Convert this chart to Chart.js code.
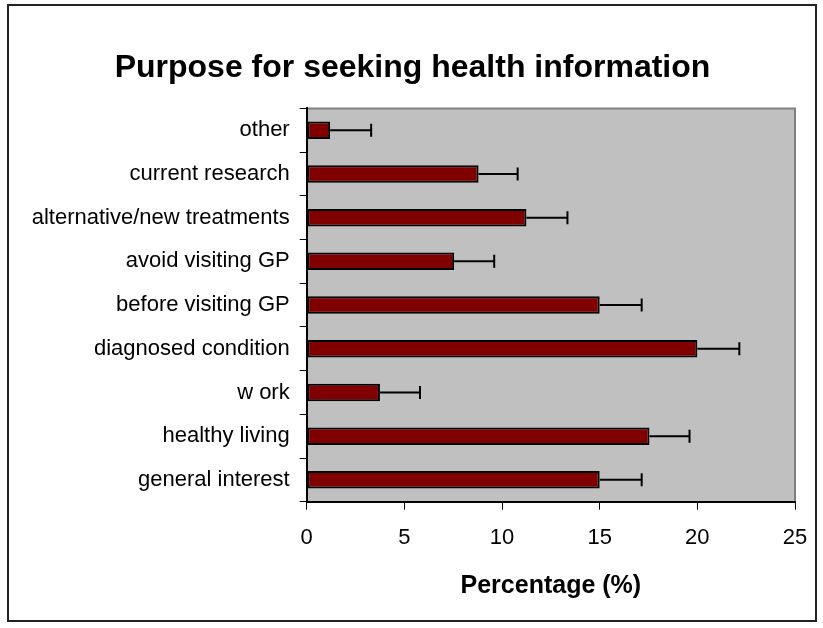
<!DOCTYPE html>
<html lang="en">
<head>
  <meta charset="UTF-8">
  <title>Purpose for seeking health information</title>
  <script src="https://cdn.jsdelivr.net/npm/chart.js"></script>
  <style>
    html, body { margin: 0; padding: 0; background: #fff; }
    #box { width: 823px; height: 628px; position: relative; }
  </style>
</head>
<body>
  <div id="box"><canvas id="grafico"></canvas></div>

  <script>
    // data, top to bottom as drawn
    const categorie = ['other', 'current research', 'alternative/new treatments', 'avoid visiting GP',
      'before visiting GP', 'diagnosed condition', 'w ork', 'healthy living', 'general interest'];
    const percentuali = [1.2, 8.8, 11.25, 7.55, 15.0, 20.0, 3.75, 17.55, 15.0];
    const errori = [2.1, 2.0, 2.1, 2.05, 2.15, 2.15, 2.05, 2.05, 2.15];
    const tickX = [0, 5, 10, 15, 20, 25];

    const FONT = 'Liberation Sans, Arial, sans-serif';

    // grey plot area + outer frame
    const sfondo = {
      id: 'sfondo',
      beforeDraw(chart) {
        const { ctx, chartArea: a } = chart;
        ctx.save();
        ctx.fillStyle = '#c0c0c0';
        ctx.fillRect(a.left, a.top, a.right - a.left, a.bottom - a.top);
        ctx.strokeStyle = '#808080';
        ctx.lineWidth = 2;
        ctx.beginPath();
        ctx.moveTo(a.left, a.top);
        ctx.lineTo(a.right, a.top);
        ctx.lineTo(a.right, a.bottom);
        ctx.stroke();
        ctx.restore();
      },
      afterDraw(chart) {
        const ctx = chart.ctx;
        ctx.save();
        ctx.strokeStyle = '#222';
        ctx.lineWidth = 2;
        ctx.strokeRect(8, 5, 808, 616);
        ctx.restore();
      }
    };

    // plus-only error bars
    const barreErrore = {
      id: 'barreErrore',
      afterDatasetsDraw(chart) {
        const { ctx, scales } = chart;
        const meta = chart.getDatasetMeta(0);
        ctx.save();
        ctx.strokeStyle = '#000';
        ctx.lineWidth = 2;
        meta.data.forEach((bar, i) => {
          const x0 = scales.x.getPixelForValue(percentuali[i]);
          const x1 = scales.x.getPixelForValue(percentuali[i] + errori[i]);
          const y = bar.y;
          ctx.beginPath();
          ctx.moveTo(x0, y);
          ctx.lineTo(x1, y);
          ctx.moveTo(x1, y - 6.5);
          ctx.lineTo(x1, y + 6.5);
          ctx.stroke();
        });
        ctx.restore();
      }
    };

    const ctx = document.getElementById('grafico').getContext('2d');
    new Chart(ctx, {
      type: 'bar',
      data: {
        labels: categorie,
        datasets: [{
          data: percentuali,
          backgroundColor: '#800000',
          borderColor: '#000',
          borderWidth: 2,
          borderSkipped: false,
          categoryPercentage: 1,
          barPercentage: 0.4
        }]
      },
      options: {
        indexAxis: 'y',
        responsive: true,
        maintainAspectRatio: false,
        animation: false,
        layout: { padding: { left: 30, right: 28, top: 0, bottom: 0 } },
        plugins: {
          legend: { display: false },
          tooltip: { enabled: false },
          title: {
            display: true,
            text: 'Purpose for seeking health information',
            color: '#000',
            font: { family: FONT, size: 32, weight: 'bold' },
            padding: { top: 49, bottom: 21 }
          }
        },
        scales: {
          x: {
            min: 0,
            max: 25,
            afterBuildTicks(scale) { scale.ticks = tickX.map(v => ({ value: v })); },
            afterFit(scale) { scale.height = 126.3; },
            grid: { drawOnChartArea: false, tickLength: 8, color: '#000', lineWidth: 1 },
            border: { color: '#000', width: 2 },
            ticks: { color: '#000', padding: 15, font: { family: FONT, size: 22 } },
            title: {
              display: true,
              text: 'Percentage (%)',
              color: '#000',
              font: { family: FONT, size: 25, weight: 'bold' },
              padding: { top: 0, bottom: 27 }
            }
          },
          y: {
            afterFit(scale) { scale.width = 276.7; },
            grid: { drawOnChartArea: false, tickLength: 7, color: '#000', lineWidth: 1 },
            border: { color: '#000', width: 2 },
            ticks: { color: '#000', padding: 10, font: { family: FONT, size: 22 } }
          }
        }
      },
      plugins: [sfondo, barreErrore]
    });
  </script>
</body>
</html>
